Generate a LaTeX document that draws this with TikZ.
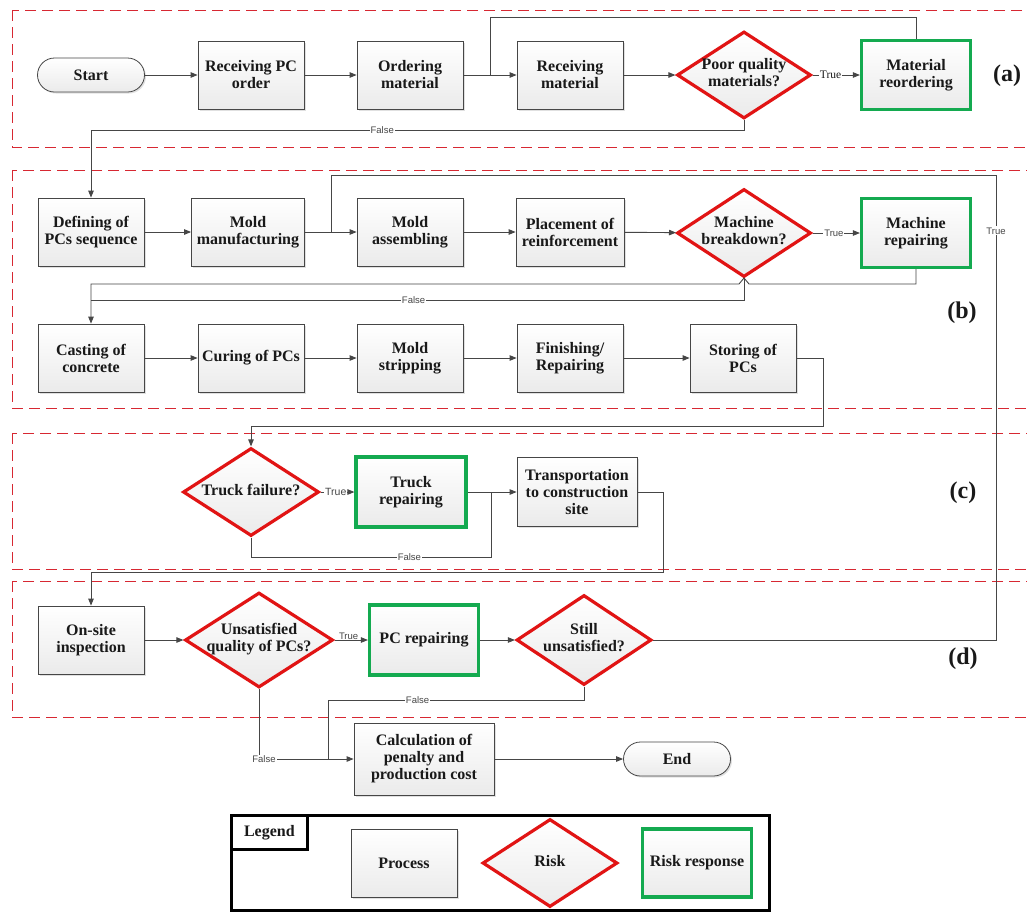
\documentclass[tikz,border=0pt]{standalone}
\usepackage{fontspec}
\setmainfont{Liberation Serif}
\newfontfamily\lblfont{Liberation Sans}
\usetikzlibrary{shapes.geometric,arrows.meta,calc,shadows}
\definecolor{riskred}{RGB}{225,20,20}
\definecolor{respgreen}{RGB}{20,170,80}
\definecolor{linegray}{RGB}{70,70,70}
\definecolor{secred}{RGB}{215,40,50}
\definecolor{txt}{RGB}{25,25,25}
\newcommand{\dtext}[1]{\makebox[0pt]{\begin{tabular}{@{}c@{}}#1\end{tabular}}}
\begin{document}
\begin{tikzpicture}[x=1pt,y=-1pt,
  mainfont/.style={font=\bfseries\fontsize{16}{17}\selectfont, text=txt},
  procbox/.style={mainfont, draw=linegray, line width=0.8pt, top color=white, bottom color=gray!16,
    minimum width=106pt, minimum height=68pt, align=center, inner sep=2pt,
    drop shadow={shadow xshift=1.5pt, shadow yshift=-1.5pt, fill=gray!60, opacity=0.4}},
  riskbox/.style={mainfont, diamond, draw=riskred, line width=3.2pt, top color=white, bottom color=gray!16,
    minimum width=134pt, minimum height=87pt, inner sep=0pt},
  respbox/.style={mainfont, draw=respgreen, line width=3.2pt, top color=white, bottom color=gray!16,
    minimum width=109pt, minimum height=69pt, align=center, inner sep=2pt},
  termbox/.style={mainfont, draw=linegray, line width=0.8pt, top color=white, bottom color=gray!16,
    rounded corners=17pt, minimum width=107pt, minimum height=34pt,
    drop shadow={shadow xshift=1.5pt, shadow yshift=-1.5pt, fill=gray!60, opacity=0.4}},
  flow/.style={draw=linegray, line width=0.9pt, -{Triangle[length=7pt,width=5.5pt]}},
  plainline/.style={draw=linegray, line width=0.9pt},
  lbl/.style={font=\lblfont\fontsize{9.5}{10}\selectfont, fill=white, inner sep=1pt, text=linegray},
  slbl/.style={font=\fontsize{11.5}{12}\selectfont, fill=white, inner sep=1pt, text=txt},
  secbox/.style={draw=secred, line width=0.9pt, dash pattern=on 11pt off 6pt},
  seclabel/.style={font=\bfseries\fontsize{24}{26}\selectfont, text=txt}
]
\useasboundingbox (0,0) rectangle (1027,911);
\fill[white] (0,0) rectangle (1027,911);
\clip (0,0) rectangle (1027,911);

% sections
\draw[secbox] (12,10) rectangle (1060,147);
\draw[secbox] (12,170) rectangle (1060,408);
\draw[secbox] (12,433) rectangle (1060,569);
\draw[secbox] (12,581) rectangle (1060,717);
\node[seclabel] (la) at (1007,76) {(a)};
\node[seclabel] (lb) at (962,313) {(b)};
\node[seclabel] (lc) at (963,493) {(c)};
\node[seclabel] (ld) at (963,659) {(d)};

% (a)
\node[termbox] (start) at (91,75) {Start};
\node[procbox] (rpc) at (251,75) {Receiving PC\\order};
\node[procbox] (ordm) at (410,75) {Ordering\\material};
\node[procbox] (rmat) at (570,75) {Receiving\\material};
\node[riskbox] (poor) at (744,75) {\dtext{Poor quality\\materials?}};
\node[respbox] (mreo) at (916,75) {Material\\reordering};

% (b)
\node[procbox] (def) at (91,232) {Defining of\\PCs sequence};
\node[procbox, minimum width=113pt] (moldm) at (248,232) {Mold\\manufacturing};
\node[procbox] (molda) at (410,232) {Mold\\assembling};
\node[procbox, minimum width=108pt] (place) at (570,232) {Placement of\\reinforcement};
\node[riskbox, minimum height=88pt] (mach) at (744,233) {\dtext{Machine\\breakdown?}};
\node[respbox] (mrep) at (916,233) {Machine\\repairing};
\node[procbox] (cast) at (91,358) {Casting of\\concrete};
\node[procbox] (cure) at (251,358) {Curing of PCs};
\node[procbox] (strip) at (410,358) {Mold\\stripping};
\node[procbox] (fin) at (570,358) {Finishing/\\Repairing};
\node[procbox] (store) at (743,358) {Storing of\\PCs};

% (c)
\node[riskbox, minimum width=136pt, minimum height=88pt] (truck) at (251,492) {\dtext{Truck failure?}};
\node[respbox, minimum width=110pt, minimum height=70pt] (trep) at (411,492) {Truck\\repairing};
\node[procbox, minimum width=120pt, minimum height=69pt] (trans) at (577,492) {Transportation\\to construction\\site};

% (d)
\node[procbox] (onsite) at (91,640) {On-site\\inspection};
\node[riskbox, minimum width=148pt, minimum height=95pt] (unsat) at (259,640) {\dtext{Unsatisfied\\quality of PCs?}};
\node[respbox, minimum height=70pt] (pcrep) at (424,640) {PC repairing};
\node[riskbox, minimum width=135pt, minimum height=90pt] (still) at (584,640) {\dtext{Still\\unsatisfied?}};
\node[procbox, minimum width=140pt, minimum height=72pt] (calc) at (424,759) {Calculation of\\penalty and\\production cost};
\node[termbox] (end) at (677,759) {End};

% junctions
\coordinate (ja) at (490,75);
\coordinate (jm) at (331,232);
\coordinate (jb) at (91,300);
\coordinate (jc) at (491,492);
\coordinate (jd) at (328,759);
\coordinate (c1) at (823,426);
\coordinate (c2) at (663,572);

% connectors (a)
\draw[flow] (start) -- (rpc);
\draw[flow] (rpc) -- (ordm);
\draw[flow] (ordm) -- (rmat);
\draw[flow] (rmat) -- (poor);
\draw[flow] (poor) -- node[slbl, pos=0.38] {True} (mreo);
\draw[plainline] (mreo.north) |- (490,17) -- (ja);
\draw[flow] (poor.south) |- node[lbl, pos=0.777] {False} (def.north |- 0,130) -- (def.north);

% connectors (b)
\draw[flow] (def) -- (moldm);
\draw[flow] (moldm) -- (molda);
\draw[flow] (molda) -- (place);
\draw[flow] (place) -- (mach);
\draw[flow] (mach) -- node[lbl, pos=0.45] {True} (mrep);
\draw[flow] (mrep.south) |- (749,284) -- (744,278) -- (739,284) -| (cast.north);
\draw[plainline] (mach.south) |- node[lbl, pos=0.753] {False} (jb);
\draw[flow] (cast) -- (cure);
\draw[flow] (cure) -- (strip);
\draw[flow] (strip) -- (fin);
\draw[flow] (fin) -- (store);
\draw[flow] (store.east) -| (c1) -| (truck.north);

% connectors (c)
\draw[flow] (truck) -- node[lbl, font=\lblfont\fontsize{10.5}{11}\selectfont, pos=0.45] {True} (trep);
\draw[flow] (trep) -- (trans);
\draw[plainline] (truck.south) |- node[lbl, pos=0.83] {False} (jc |- 0,557) -- (jc);
\draw[flow] (trans.east) -| (c2) -| (onsite.north);

% connectors (d)
\draw[flow] (onsite) -- (unsat);
\draw[flow] (unsat) -- node[lbl, fill=none, pos=0.42, above=-1pt] {True} (pcrep);
\draw[flow] (pcrep) -- (still);
\draw[plainline] (still.east) -- (996,640) -- node[lbl, pos=0.88] {True} (996,175) -| (jm);
\draw[plainline] (still.south) |- node[lbl, pos=0.825] {False} (jd |- 0,700) -- (jd);
\draw[flow] (unsat.south) |- node[lbl, pos=0.5, xshift=5pt] {False} (calc.west);
\draw[flow] (calc) -- (end);

% legend
\node[draw=black, line width=2.8pt, anchor=north west, minimum width=538pt, minimum height=95pt, inner sep=0pt] (legend) at (230,814) {};
\node[mainfont, draw=black, line width=2.8pt, anchor=north west, minimum width=76pt, minimum height=34pt, inner sep=0pt] (legtab) at (230,814) {Legend};
\node[procbox] (lproc) at (404,863) {Process};
\node[riskbox, minimum width=135pt, minimum height=88pt] (lrisk) at (550,863) {\dtext{Risk}};
\node[respbox, minimum width=109pt, minimum height=68pt] (lresp) at (697,863) {Risk response};
\end{tikzpicture}
\end{document}
